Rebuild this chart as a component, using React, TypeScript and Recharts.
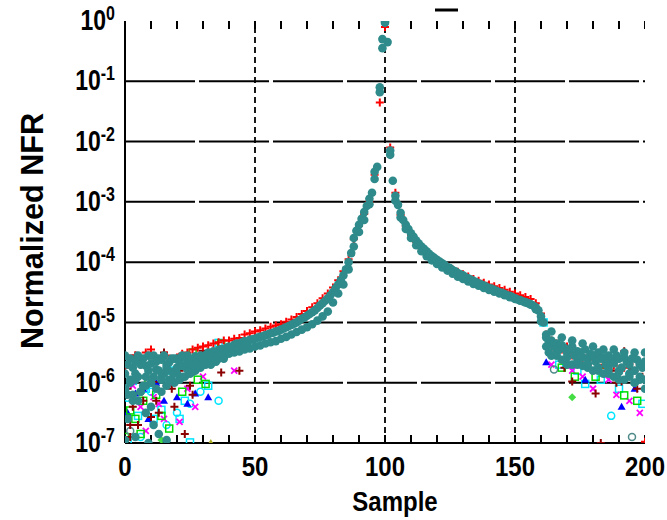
import React from "react";
import {
  ScatterChart,
  Scatter,
  XAxis,
  YAxis,
  ReferenceLine,
  Customized,
} from "recharts";

// x ticks (minor every 10, labels every 50) and y decades
const sampleTicks = [0, 10, 20, 30, 40, 50, 60, 70, 80, 90, 100, 110, 120, 130, 140, 150, 160, 170, 180, 190, 200];
const labelledSamples = [0, 50, 100, 150, 200];
const gridSamples = [50, 100, 150];
const decadeTicks = [1e-7, 1e-6, 1e-5, 1e-4, 1e-3, 1e-2, 1e-1, 1];

// all values below are log10(Normalized NFR)

// main teal markers, one per sample 0..200
const tealLog = [
  -5.85, -5.7, -6.0, -5.75, -5.65, -5.9, -5.7, -6.05, -5.72, -5.8,
  -5.68, -5.9, -5.65, -5.8, -5.62, -5.85, -5.7, -5.66, -5.82, -5.6,
  -5.75, -5.66, -5.72, -5.58, -5.68, -5.62, -5.7, -5.56, -5.64, -5.55,
  -5.6, -5.54, -5.5, -5.57, -5.48, -5.52, -5.46, -5.44, -5.47, -5.42,
  -5.4, -5.43, -5.37, -5.35, -5.38, -5.33, -5.31, -5.33, -5.29, -5.28,
  -5.27, -5.25, -5.24, -5.23, -5.21, -5.2, -5.18, -5.17, -5.15, -5.14,
  -5.12, -5.1, -5.08, -5.06, -5.04, -5.02, -5.0, -4.97, -4.94, -4.92,
  -4.89, -4.86, -4.83, -4.8, -4.76, -4.72, -4.68, -4.64, -4.6, -4.55,
  -4.5, -4.43, -4.37, -4.3, -4.22, -4.12, -4.0, -3.85, -3.6, -3.48,
  -3.38, -3.28, -3.17, -3.07, -2.95, -2.85, -2.5, -2.42, -1.1, -0.45,
  0, -0.35, -2.15, -2.65, -2.9, -3.05, -3.18, -3.3, -3.38, -3.45,
  -3.52, -3.58, -3.64, -3.69, -3.74, -3.78, -3.82, -3.86, -3.9, -3.93,
  -3.96, -3.99, -4.02, -4.05, -4.08, -4.1, -4.13, -4.15, -4.18, -4.2,
  -4.22, -4.25, -4.27, -4.29, -4.31, -4.33, -4.35, -4.37, -4.39, -4.41,
  -4.43, -4.44, -4.46, -4.48, -4.5, -4.51, -4.53, -4.55, -4.56, -4.58,
  -4.6, -4.62, -4.63, -4.65, -4.66, -4.68, -4.7, -4.72, -4.75, -4.8,
  -4.9, -5.0, -5.25, -5.32, -5.3, -5.4, -5.35, -5.45, -5.38, -5.42,
  -5.5, -5.45, -5.4, -5.55, -5.48, -5.5, -5.58, -5.45, -5.6, -5.52,
  -5.55, -5.65, -5.5, -5.6, -5.58, -5.7, -5.55, -5.62, -5.68, -5.55,
  -5.6, -5.75, -5.58, -5.65, -5.7, -5.6, -5.8, -5.62, -5.7, -5.75,
  -5.65,
];

// lower edge of the teal band, samples 0, 2, 4 ... 200
const tealLowLog = [
  -6.1, -5.95, -5.85, -6.15, -5.9, -6.0, -5.78, -5.92, -5.75, -5.95,
  -5.85, -5.9, -5.78, -5.82, -5.72, -5.7, -5.66, -5.62, -5.6, -5.56,
  -5.52, -5.5, -5.48, -5.45, -5.43, -5.4, -5.38, -5.35, -5.33, -5.31,
  -5.27, -5.24, -5.2, -5.16, -5.12, -5.08, -5.03, -4.97, -4.9, -4.82,
  -4.67, -4.52, -4.37, -4.12, -3.74, -3.5, -3.3, -3.04, -2.62, -1.18,
  -0.03, -2.22, -2.98, -3.26, -3.45, -3.6, -3.72, -3.82, -3.9, -3.97,
  -4.03, -4.09, -4.14, -4.19, -4.24, -4.28, -4.32, -4.36, -4.39, -4.43,
  -4.46, -4.49, -4.52, -4.55, -4.58, -4.61, -4.64, -4.67, -4.7, -4.78,
  -4.98, -5.4, -5.55, -5.5, -5.62, -5.58, -5.7, -5.65, -5.72, -5.68,
  -5.8, -5.75, -5.85, -5.78, -5.9, -5.82, -5.95, -5.85, -6.0, -5.9,
  -5.95,
];

// red "+", samples 0, 2, 4 ... 200
const redLog = [
  -5.75, -5.6, -5.55, -5.7, -5.5, -5.45, -5.65, -5.6, -5.55, -5.62,
  -5.58, -5.52, -5.5, -5.45, -5.42, -5.4, -5.38, -5.35, -5.33, -5.3,
  -5.3, -5.27, -5.26, -5.2, -5.18, -5.15, -5.13, -5.1, -5.07, -5.05,
  -5.03, -4.99, -4.95, -4.91, -4.86, -4.81, -4.75, -4.68, -4.6, -4.52,
  -4.42, -4.3, -4.15, -3.95, -3.62, -3.4, -3.2, -3.0, -2.55, -1.35,
  -0.1, -2.1, -2.85, -3.22, -3.4, -3.55, -3.67, -3.77, -3.84, -3.92,
  -3.97, -4.02, -4.07, -4.12, -4.16, -4.2, -4.24, -4.28, -4.31, -4.34,
  -4.37, -4.4, -4.43, -4.46, -4.49, -4.52, -4.55, -4.58, -4.61, -4.68,
  -4.85, -5.2, -5.3, -5.35, -5.45, -5.4, -5.55, -5.5, -5.6, -5.55,
  -5.62, -5.58, -5.7, -5.65, -5.72, -5.6, -5.75, -5.68, -5.8, -5.7,
  -6.98,
];

// extra teal markers filling the noisy clouds at both ends
const tealCloudX = [0, 1, 2, 3, 4, 5, 6, 7, 8, 9, 10, 11, 12, 13, 14, 15, 16, 17, 18, 19, 20, 21, 22, 23, 24, 25, 27, 29, 31, 33, 35, 38,
  162, 163, 164, 166, 168, 170, 172, 174, 176, 178, 180, 182, 184, 186, 188, 190, 192, 194, 196, 198, 200];
const tealCloudLog = [-5.55, -6.2, -5.6, -6.3, -5.95, -5.55, -6.15, -5.6, -6.05, -5.55, -6.0, -5.55, -6.1, -5.6, -5.95, -5.55, -6.05, -5.95, -5.6, -6.0, -5.6, -5.95, -5.55, -5.9, -5.55, -5.85, -5.8, -5.75, -5.7, -5.7, -5.65, -5.6,
  -5.2, -5.5, -5.15, -5.55, -5.25, -5.7, -5.3, -5.7, -5.35, -5.75, -5.4, -5.8, -5.45, -5.85, -5.45, -5.8, -5.5, -5.9, -5.5, -5.95, -5.5];

const tealExtraX = [0, 1, 3, 4, 5, 8, 9, 10, 11, 13, 14, 16, 99, 190, 196, 200];
const tealExtraLog = [-6.95, -6.6, -6.2, -6.9, -6.3, -6.5, -7.0, -6.4, -6.7, -6.85, -6.15, -6.95, -0.3, -5.95, -6.0, -6.1];

// scattered coloured markers in the noisy regions
const darkRedX = [1, 2, 2, 3, 4, 5, 6, 7, 8, 9, 10, 11, 12, 13, 15, 16, 18, 19, 21, 23, 25, 26, 28, 30, 34, 37, 40, 44, 48, 55, 62,
  165, 169, 172, 175, 178, 181, 183, 185, 187, 189, 191, 192, 195, 197, 199];
const darkRedLog = [-6.1, -6.7, -6.9, -6.4, -5.55, -6.7, -5.63, -6.3, -5.9, -7.0, -6.57, -5.99, -6.3, -6.5, -5.5, -6.05, -6.1, -6.4, -5.8, -6.85, -6.05, -6.2, -5.6, -5.47, -5.5, -5.83, -5.45, -5.8, -5.3, -5.2, -5.05,
  -5.45, -5.75, -5.98, -5.6, -5.7, -6.18, -7.0, -5.72, -5.8, -6.0, -5.98, -5.48, -5.77, -6.1, -5.9];

const greenSqX = [0, 2, 4, 6, 7, 9, 12, 14, 17, 19, 22, 26, 28, 31, 37, 168, 173, 181, 185, 192, 197];
const greenSqLog = [-6.9, -6.46, -6.6, -6.85, -6.3, -6.0, -6.2, -6.55, -6.76, -5.9, -6.15, -5.5, -5.95, -6.02, -5.35, -5.75, -5.9, -5.9, -5.7, -6.21, -6.3];

const greenDiaX = [14, 172];
const greenDiaLog = [-6.95, -6.24];

const cyanSqX = [0, 1, 3, 5, 8, 11, 14, 18, 21, 23, 25, 32, 36, 161, 167, 174, 177, 183, 190, 199];
const cyanSqLog = [-6.1, -7.0, -5.97, -6.55, -6.1, -6.6, -6.45, -5.8, -6.6, -6.3, -6.99, -6.05, -5.34, -5.0, -5.7, -5.8, -6.02, -5.95, -6.1, -6.35];

const cyanCircX = [1, 6, 10, 16, 20, 25, 29, 36, 187, 194];
const cyanCircLog = [-6.25, -6.9, -6.15, -6.7, -6.5, -6.35, -6.15, -6.3, -6.55, -5.85];

const blueX = [1, 4, 7, 9, 12, 15, 20, 24, 27, 32, 162, 177, 191, 196];
const blueLog = [-6.5, -6.18, -6.1, -6.6, -6.0, -6.3, -6.24, -6.35, -6.18, -6.24, -5.66, -5.95, -6.4, -6.1];

const magentaX = [0, 2, 3, 6, 8, 11, 13, 15, 17, 21, 24, 27, 30, 42, 164, 172, 176, 180, 186, 189, 194, 198];
const magentaLog = [-6.57, -6.2, -6.05, -6.4, -6.8, -6.24, -6.35, -6.6, -6.0, -6.65, -6.1, -6.4, -5.9, -5.8, -5.7, -5.8, -5.9, -6.1, -5.95, -6.2, -6.3, -6.5];

const grayCircX = [2, 165, 195];
const grayCircLog = [-6.8, -5.78, -6.9];

const oliveX = [33];
const oliveLog = [-7.0];

const TEAL = "#2f8b8b";
const FONT = "'Liberation Sans', Arial, sans-serif";

const perSample = (logs: number[]) => logs.map((v, i) => ({ x: i, y: 10 ** v }));
const everyOther = (logs: number[]) => logs.map((v, i) => ({ x: i * 2, y: 10 ** v }));
const pairs = (xs: number[], logs: number[]) => xs.map((x, i) => ({ x, y: 10 ** logs[i] }));

// inward minor tick marks on the bottom and top edges of the box
const bottomTicks = sampleTicks.map((x) => ({ x, y: 1e-7 }));
const topTicks = sampleTicks.map((x) => ({ x, y: 1 }));

// marker shapes
const plus = (color: string) => (p: any) => (
  <path d={`M${p.cx - 4},${p.cy}h8M${p.cx},${p.cy - 4}v8`} stroke={color} strokeWidth={2} fill="none" />
);
const cross = (color: string) => (p: any) => (
  <path d={`M${p.cx - 3},${p.cy - 3}l6,6M${p.cx - 3},${p.cy + 3}l6,-6`} stroke={color} strokeWidth={1.8} fill="none" />
);
const openSquare = (color: string) => (p: any) => (
  <rect x={p.cx - 3.5} y={p.cy - 3.5} width={7} height={7} stroke={color} strokeWidth={1.5} fill="none" />
);
const openCircle = (color: string) => (p: any) => (
  <circle cx={p.cx} cy={p.cy} r={3.5} stroke={color} strokeWidth={1.5} fill="none" />
);
const triangle = (color: string) => (p: any) => (
  <path d={`M${p.cx},${p.cy - 4}L${p.cx + 4},${p.cy + 3}L${p.cx - 4},${p.cy + 3}Z`} fill={color} />
);
const diamond = (color: string) => (p: any) => (
  <path d={`M${p.cx},${p.cy - 4}L${p.cx + 4},${p.cy}L${p.cx},${p.cy + 4}L${p.cx - 4},${p.cy}Z`} fill={color} />
);
const dot = (color: string) => (p: any) => (
  <circle cx={p.cx} cy={p.cy} r={4.3} fill={color} />
);
const tickUp = (p: any) => <rect x={p.cx - 1} y={p.cy - 8} width={2} height={8} fill="#000" />;
const tickDown = (p: any) => <rect x={p.cx - 1} y={p.cy} width={2} height={8} fill="#000" />;

// the source figure's lettering is a little taller than it is wide
const STRETCH = 1.15;

const BottomTick = (props: any) => {
  const { x, payload } = props;
  if (!labelledSamples.includes(payload.value)) return <g />;
  return (
    <g transform={`translate(${x},476) scale(1,${STRETCH})`}>
      <text x={0} y={0} textAnchor="middle" fontSize={24} fontWeight="bold" fontFamily={FONT} fill="#000">
        {payload.value}
      </text>
    </g>
  );
};

const DecadeTick = (props: any) => {
  const { y, payload } = props;
  const e = Math.round(Math.log10(payload.value));
  return (
    <g transform={`translate(115,${y}) scale(1,1.3)`}>
      <text x={0} y={6.9} textAnchor="end" fontFamily={FONT} fontWeight="bold" fill="#000">
        <tspan fontSize={23}>10</tspan>
        <tspan fontSize={16} dy={-7.6}>{e}</tspan>
      </text>
    </g>
  );
};

const Titles = () => (
  <g>
    <g transform={`translate(395,511) scale(1,${STRETCH})`}>
      <text x={0} y={0} textAnchor="middle" fontSize={24} fontWeight="bold" fontFamily={FONT} fill="#000">
        Sample
      </text>
    </g>
    <text
      transform="translate(43,231) rotate(-90)"
      textAnchor="middle"
      fontSize={31}
      fontWeight="bold"
      fontFamily={FONT}
      fill="#000"
      textLength={236}
      lengthAdjust="spacingAndGlyphs"
    >
      Normalized NFR
    </text>
    <line x1={435} x2={458} y1={10} y2={10} stroke="#000" strokeWidth={3} />
  </g>
);

export default function App() {
  return (
    <div style={{ position: "absolute", left: 0, top: 0, width: 667, height: 520, background: "#fff" }}>
      <ScatterChart width={667} height={520} margin={{ top: 21, right: 22, bottom: 0, left: 0 }}>
        <XAxis
          type="number"
          dataKey="x"
          domain={[0, 200]}
          ticks={sampleTicks}
          interval={0}
          height={77}
          allowDataOverflow
          axisLine={{ stroke: "#000", strokeWidth: 2 }}
          tickLine={false}
          tick={<BottomTick />}
        />
        <XAxis
          xAxisId="top"
          orientation="top"
          type="number"
          domain={[0, 200]}
          height={0}
          axisLine={{ stroke: "#000", strokeWidth: 2 }}
          tickLine={false}
          tick={false}
        />
        <YAxis
          type="number"
          dataKey="y"
          scale="log"
          domain={[1e-7, 1]}
          ticks={decadeTicks}
          interval={0}
          width={125}
          allowDataOverflow
          axisLine={{ stroke: "#000", strokeWidth: 2 }}
          tickLine={false}
          tick={<DecadeTick />}
        />
        <YAxis
          yAxisId="right"
          orientation="right"
          type="number"
          scale="log"
          domain={[1e-7, 1]}
          width={0}
          axisLine={{ stroke: "#000", strokeWidth: 2 }}
          tickLine={false}
          tick={false}
        />
        {decadeTicks.slice(1, 7).map((d) => (
          <ReferenceLine key={d} y={d} stroke="#000" strokeWidth={2} strokeDasharray="70 4" />
        ))}
        {gridSamples.map((s) => (
          <ReferenceLine key={s} x={s} stroke="#000" strokeWidth={1.8} strokeDasharray="6 4" />
        ))}
        <Scatter data={bottomTicks} shape={tickUp} isAnimationActive={false} />
        <Scatter data={topTicks} shape={tickDown} isAnimationActive={false} />
        <Scatter data={pairs(cyanCircX, cyanCircLog)} shape={openCircle("#00e5ff")} isAnimationActive={false} />
        <Scatter data={pairs(cyanSqX, cyanSqLog)} shape={openSquare("#00e5ff")} isAnimationActive={false} />
        <Scatter data={pairs(magentaX, magentaLog)} shape={cross("#ff00ff")} isAnimationActive={false} />
        <Scatter data={pairs(blueX, blueLog)} shape={triangle("#0000ff")} isAnimationActive={false} />
        <Scatter data={pairs(greenSqX, greenSqLog)} shape={openSquare("#00dd00")} isAnimationActive={false} />
        <Scatter data={pairs(greenDiaX, greenDiaLog)} shape={diamond("#44dd44")} isAnimationActive={false} />
        <Scatter data={pairs(oliveX, oliveLog)} shape={triangle("#aaaa22")} isAnimationActive={false} />
        <Scatter data={pairs(grayCircX, grayCircLog)} shape={openCircle("#4f8a8a")} isAnimationActive={false} />
        <Scatter data={pairs(darkRedX, darkRedLog)} shape={plus("#8b0000")} isAnimationActive={false} />
        <Scatter data={everyOther(redLog)} shape={plus("#ff0000")} isAnimationActive={false} />
        <Scatter data={pairs(tealCloudX, tealCloudLog)} shape={dot(TEAL)} isAnimationActive={false} />
        <Scatter data={everyOther(tealLowLog)} shape={dot(TEAL)} isAnimationActive={false} />
        <Scatter data={perSample(tealLog)} shape={dot(TEAL)} isAnimationActive={false} />
        <Scatter data={pairs(tealExtraX, tealExtraLog)} shape={dot(TEAL)} isAnimationActive={false} />
        <Customized component={Titles} />
      </ScatterChart>
    </div>
  );
}
